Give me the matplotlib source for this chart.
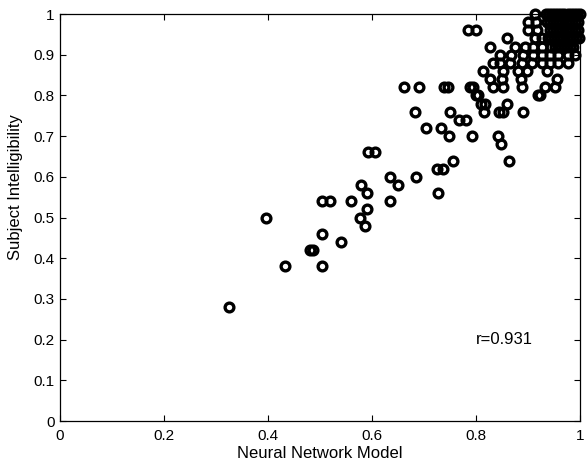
import matplotlib
matplotlib.use('Agg')
import matplotlib.pyplot as plt

plt.rcParams['font.family'] = ['Liberation Sans', 'DejaVu Sans']

# Model prediction vs subject intelligibility
# lower, sparse part of the cloud
x_low = [0.325, 0.397, 0.433, 0.504, 0.481, 0.486, 0.504, 0.541, 0.504, 0.519,
         0.560, 0.578, 0.590, 0.576, 0.590, 0.587, 0.592, 0.606, 0.635, 0.649,
         0.635, 0.684, 0.724, 0.737, 0.727, 0.756, 0.704, 0.732, 0.748, 0.793,
         0.682, 0.750, 0.768, 0.780, 0.662, 0.690, 0.739, 0.747, 0.788, 0.800,
         0.810, 0.818, 0.815, 0.845, 0.852, 0.860, 0.890, 0.842, 0.847, 0.864,
         0.920, 0.785, 0.799]
y_low = [0.28, 0.50, 0.38, 0.38, 0.42, 0.42, 0.46, 0.44, 0.54, 0.54,
         0.54, 0.58, 0.56, 0.50, 0.52, 0.48, 0.66, 0.66, 0.60, 0.58,
         0.54, 0.60, 0.62, 0.62, 0.56, 0.64, 0.72, 0.72, 0.70, 0.70,
         0.76, 0.76, 0.74, 0.74, 0.82, 0.82, 0.82, 0.82, 0.82, 0.80,
         0.78, 0.78, 0.76, 0.76, 0.76, 0.78, 0.76, 0.70, 0.68, 0.64,
         0.80, 0.96, 0.96]

# upper part, 0.80 .. 0.94
x_mid = [0.804, 0.923,
         0.794, 0.833, 0.852, 0.888, 0.933, 0.952,
         0.827, 0.849, 0.887, 0.955,
         0.814, 0.852, 0.881, 0.897, 0.936,
         0.833, 0.846, 0.865, 0.888, 0.907, 0.926, 0.942, 0.958, 0.977,
         0.846, 0.868, 0.891, 0.910, 0.926, 0.942, 0.958, 0.977, 0.990,
         0.827, 0.874, 0.894, 0.910, 0.926,
         0.860, 0.913, 0.926,
         0.900, 0.917,
         0.900, 0.916,
         0.913]
y_mid = [0.80, 0.80,
         0.82, 0.82, 0.82, 0.82, 0.82, 0.82,
         0.84, 0.84, 0.84, 0.84,
         0.86, 0.86, 0.86, 0.86, 0.86,
         0.88, 0.88, 0.88, 0.88, 0.88, 0.88, 0.88, 0.88, 0.88,
         0.90, 0.90, 0.90, 0.90, 0.90, 0.90, 0.90, 0.90, 0.90,
         0.92, 0.92, 0.92, 0.92, 0.92,
         0.94, 0.94, 0.94,
         0.96, 0.96,
         0.98, 0.98,
         1.00]

# dense corner, 0.92 .. 1.00 (solid black in the picture)
x_top = [0.945, 0.951, 0.957, 0.963, 0.969, 0.975, 0.981, 0.987,
         0.938, 0.944, 0.950, 0.956, 0.962, 0.968, 0.974, 0.980, 0.986, 0.992, 0.998,
         0.942, 0.948, 0.954, 0.960, 0.966, 0.972, 0.978, 0.984, 0.990, 0.996,
         0.936, 0.942, 0.948, 0.954, 0.960, 0.966, 0.972, 0.978, 0.984, 0.990, 0.996,
         0.934, 0.940, 0.946, 0.952, 0.958, 0.964, 0.970, 0.976, 0.982, 0.988, 0.994, 1.000]
y_top = [0.92, 0.92, 0.92, 0.92, 0.92, 0.92, 0.92, 0.92,
         0.94, 0.94, 0.94, 0.94, 0.94, 0.94, 0.94, 0.94, 0.94, 0.94, 0.94,
         0.96, 0.96, 0.96, 0.96, 0.96, 0.96, 0.96, 0.96, 0.96, 0.96,
         0.98, 0.98, 0.98, 0.98, 0.98, 0.98, 0.98, 0.98, 0.98, 0.98, 0.98,
         1.00, 1.00, 1.00, 1.00, 1.00, 1.00, 1.00, 1.00, 1.00, 1.00, 1.00, 1.00]

x_vals = x_low + x_mid + x_top
y_vals = y_low + y_mid + y_top

r_text = 'r=0.931'
x_ticks = [0, 0.2, 0.4, 0.6, 0.8, 1]
x_tick_labels = ['0', '0.2', '0.4', '0.6', '0.8', '1']
y_ticks = [0, 0.1, 0.2, 0.3, 0.4, 0.5, 0.6, 0.7, 0.8, 0.9, 1]
y_tick_labels = ['0', '0.1', '0.2', '0.3', '0.4', '0.5', '0.6', '0.7', '0.8', '0.9', '1']

fig = plt.figure(figsize=(5.87, 4.67), dpi=100)
ax = fig.add_axes([0.1022, 0.0985, 0.886, 0.8715])

ax.plot(x_vals, y_vals, linestyle='none', marker='o', markersize=6.3,
        markerfacecolor='none', markeredgecolor='k', markeredgewidth=2.4,
        clip_on=False, zorder=3)

ax.set_xlim(0, 1)
ax.set_ylim(0, 1)
ax.set_xticks(x_ticks)
ax.set_xticklabels(x_tick_labels)
ax.set_yticks(y_ticks)
ax.set_yticklabels(y_tick_labels)
ax.tick_params(direction='in', length=4, width=0.8, top=True, right=True,
               labelsize=11, colors='k')
ax.tick_params(axis='x', pad=6)
ax.tick_params(axis='y', pad=4)
for s in ax.spines.values():
    s.set_linewidth(0.9)

ax.set_xlabel('Neural Network Model', fontsize=12, labelpad=2)
ax.set_ylabel('Subject Intelligibility', fontsize=12)
ax.yaxis.set_label_coords(-0.072, 0.574)
ax.text(0.8, 0.2, r_text, fontsize=12, va='center', ha='left')

fig.savefig('out.png', dpi=100)
